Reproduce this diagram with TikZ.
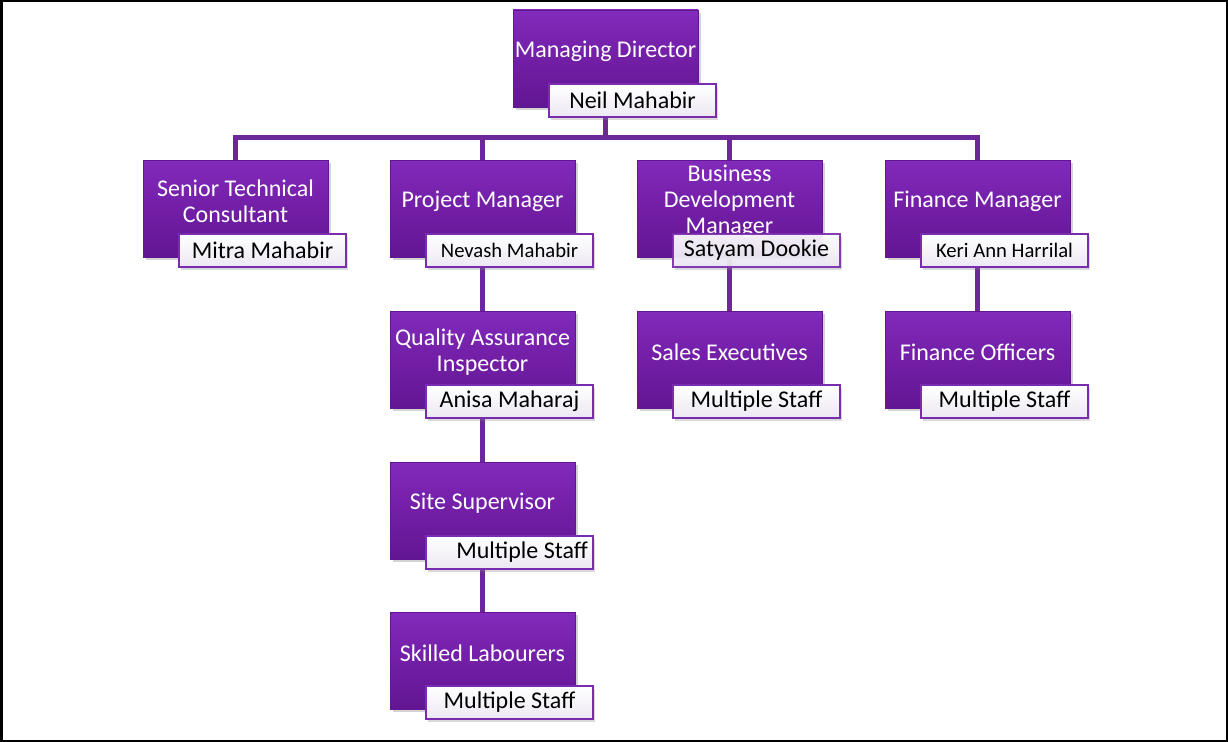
\documentclass[tikz,border=0pt]{standalone}
\usepackage{fontspec}
\setmainfont{Carlito}
\usetikzlibrary{shadows,backgrounds}
\definecolor{roletop}{RGB}{130,42,188}
\definecolor{rolemid}{RGB}{114,30,166}
\definecolor{rolebot}{RGB}{98,22,146}
\definecolor{linkpurple}{RGB}{108,40,152}
\definecolor{nameedge}{RGB}{122,44,174}
\definecolor{namefill}{RGB}{236,232,243}
\tikzset{
  rolebox/.style={draw=rolebot,line width=0.6pt,top color=roletop,bottom color=rolebot,middle color=rolemid,
    minimum width=138.75pt,minimum height=72.75pt,inner sep=0pt,
    drop shadow={shadow xshift=2pt,shadow yshift=-2.5pt,opacity=0.35}},
  roletext/.style={text=white,font=\fontsize{18}{19.5}\selectfont,align=center,yshift=5.25pt},
  namebox/.style={draw=nameedge,line width=1.5pt,top color=white,bottom color=namefill,
    minimum width=125.25pt,minimum height=24.75pt,inner sep=0pt,font=\fontsize{18}{19.5}\selectfont,
    drop shadow={shadow xshift=1.5pt,shadow yshift=-2pt,opacity=0.3}},
  smallname/.style={font=\fontsize{15.5}{18}\selectfont},
  link/.style={draw=linkpurple,line width=3.75pt}
}
\begin{document}
\begin{tikzpicture}[x=0.75pt,y=-0.75pt]
  \useasboundingbox (0,0) rectangle (1228,742);
  \draw[line width=1.5pt] (1.5,1.5) rectangle (1226.5,740.5);
  % top
  \node[rolebox,label={[roletext]center:Managing Director}] (md) at (605.5,58.5) {};
  \node[namebox] (mdn) at (632.5,100.5) {Neil Mahabir};
  % managers
  \node[rolebox,label={[roletext]center:Senior Technical\\Consultant}] (stc) at (235.5,208.5) {};
  \node[namebox] (stcn) at (262.5,250.5) {Mitra Mahabir};
  \node[rolebox,label={[roletext]center:Project Manager}] (pm) at (482.5,208.5) {};
  \node[namebox,smallname] (pmn) at (509.5,250.5) {Nevash Mahabir};
  \node[rolebox,label={[roletext]center:Business\\Development\\Manager}] (bdm) at (729.5,208.5) {};
  \node[namebox,opacity=0.92,text opacity=1] (bdmn) at (756.5,250.5) {Satyam Dookie};
  \node[rolebox,label={[roletext]center:Finance Manager}] (fm) at (977.5,208.5) {};
  \node[namebox,smallname] (fmn) at (1004.5,250.5) {Keri Ann Harrilal};
  % second row
  \node[rolebox,label={[roletext]center:Quality Assurance\\Inspector}] (qa) at (482.5,359.5) {};
  \node[namebox] (qan) at (509.5,401.5) {Anisa Maharaj};
  \node[rolebox,label={[roletext]center:Sales Executives}] (se) at (729.5,359.5) {};
  \node[namebox] (sen) at (756.5,401.5) {Multiple Staff};
  \node[rolebox,label={[roletext]center:Finance Officers}] (fo) at (977.5,359.5) {};
  \node[namebox] (fon) at (1004.5,401.5) {Multiple Staff};
  % site
  \node[rolebox,label={[roletext]center:Site Supervisor}] (ss) at (482.5,510.5) {};
  \node[namebox,text width=117.75pt,inner xsep=3.75pt,align=flush right] (ssn) at (509.5,552.5) {Multiple Staff};
  \node[rolebox,label={[roletext]center:Skilled Labourers}] (sl) at (482.5,660.5) {};
  \node[namebox] (sln) at (509.5,702.5) {Multiple Staff};
  \coordinate (bus) at (0,137.5);
  \begin{pgfonlayer}{background}
    \draw[link] (md.south) -- (md.south |- bus);
    \draw[link] (stc.north) -- (stc.north |- bus) -| (fm.north);
    \draw[link] (pm.north) -- (pm.north |- bus);
    \draw[link] (bdm.north) -- (bdm.north |- bus);
    \draw[link] (pm.south) -- (qa.north);
    \draw[link] (qa.south) -- (ss.north);
    \draw[link] (ss.south) -- (sl.north);
    \draw[link] (bdm.south) -- (se.north);
    \draw[link] (fm.south) -- (fo.north);
  \end{pgfonlayer}
\end{tikzpicture}
\end{document}
